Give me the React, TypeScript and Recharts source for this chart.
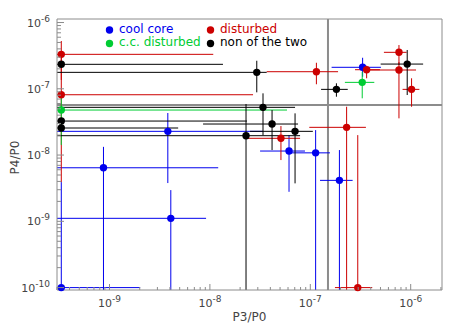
import { ScatterChart, Scatter, XAxis, YAxis, ErrorBar, ReferenceLine, Legend, Label } from "recharts"

// each row: [P3/P0, P4/P0, xLow, xHigh, yLow, yHigh]
// 1e-10 / 1e-11 as a low bound means the bar runs off the left / bottom of the plot
type Row = [number, number, number, number, number, number]

const coolCore: Row[] = [
  [3.31e-10, 1e-10, 1e-10, 2.02e-9, 1e-11, 3.91e-9],
  [3.81e-9, 2.28e-8, 1e-10, 3.38e-8, 3.78e-9, 4.31e-8],
  [8.71e-10, 6.43e-9, 1e-10, 1.21e-8, 1e-11, 1.33e-8],
  [4.08e-9, 1.11e-9, 1e-10, 9.16e-9, 1e-11, 2.96e-9],
  [6.14e-8, 1.15e-8, 3.16e-8, 8.85e-8, 2.79e-9, 2.0e-8],
  [1.13e-7, 1.08e-8, 5.82e-8, 1.57e-7, 1e-11, 2.38e-8],
  [1.95e-7, 4.15e-9, 1.25e-7, 2.64e-7, 1e-11, 1.19e-8],
  [3.32e-7, 2.11e-7, 1.63e-7, 5.05e-7, 1.52e-7, 2.94e-7],
]

const disturbed: Row[] = [
  [3.31e-10, 3.31e-7, 1e-10, 1.08e-8, 1.36e-7, 5.26e-7],
  [3.31e-10, 8.13e-8, 1e-10, 2.69e-8, 3.91e-9, 3.31e-7],
  [1.15e-7, 1.81e-7, 3.68e-8, 1.89e-7, 1.17e-7, 2.47e-7],
  [5.1e-8, 1.79e-8, 2.29e-8, 7.91e-8, 8.4e-9, 2.74e-8],
  [2.3e-7, 2.62e-8, 9.77e-8, 3.58e-7, 1e-11, 5.36e-8],
  [2.97e-7, 1e-10, 1.76e-7, 4.14e-7, 1e-11, 2.0e-8],
  [3.64e-7, 1.94e-7, 2.79e-7, 4.94e-7, 1.44e-7, 2.23e-7],
  [7.64e-7, 1.92e-7, 3.93e-7, 1.13e-6, 3.58e-8, 2.53e-7],
  [7.64e-7, 3.55e-7, 5.41e-7, 9.1e-7, 2.28e-7, 4.57e-7],
  [1.02e-6, 9.8e-8, 8.3e-7, 1.22e-6, 5.36e-8, 1.44e-7],
]

const ccDisturbed: Row[] = [
  [3.31e-10, 4.78e-8, 1e-10, 5.86e-8, 1.42e-8, 7.5e-8],
  [3.29e-7, 1.25e-7, 2.21e-7, 4.34e-7, 7.18e-8, 1.81e-7],
]

const neither: Row[] = [
  [3.31e-10, 2.34e-7, 1e-10, 1.35e-8, 2.34e-7, 2.34e-7],
  [3.31e-10, 3.26e-8, 1e-10, 2.34e-8, 3.26e-8, 3.26e-8],
  [3.31e-10, 2.56e-8, 1e-10, 4.83e-9, 2.56e-8, 2.56e-8],
  [2.93e-8, 1.77e-7, 1e-10, 3.68e-8, 8.84e-8, 2.65e-7],
  [2.29e-8, 1.96e-8, 1e-10, 7.91e-8, 1e-11, 5.89e-8],
  [4.16e-8, 2.94e-8, 8.55e-9, 7.55e-8, 1.19e-8, 4.78e-8],
  [3.38e-8, 5.25e-8, 1e-10, 7.05e-8, 2.0e-8, 8.54e-8],
  [7.05e-8, 2.28e-8, 2.51e-8, 1.06e-7, 3.74e-9, 4.26e-8],
  [1.82e-7, 9.8e-8, 1.28e-7, 2.36e-7, 7.59e-8, 1.21e-7],
  [9.23e-7, 2.36e-7, 5.02e-7, 1.33e-6, 8.05e-8, 3.85e-7],
]

const xMajor = [1e-9, 1e-8, 1e-7, 1e-6]
const yMajor = [1e-10, 1e-9, 1e-8, 1e-7, 1e-6]
const minorSteps = [2, 3, 4, 5, 6, 7, 8, 9]

const X_DOMAIN: [number, number] = [3e-10, 2.05e-6]
const Y_DOMAIN: [number, number] = [9.2e-11, 1.13e-6]
const P3_CUT = 1.5e-7
const P4_CUT = 5.7e-8

const AXIS = "#8c8c8c"
const TEXT = "#444"
const FONT = "'DejaVu Sans', sans-serif"

const series = [
  { name: "cool core", rows: coolCore, color: "#0000ee" },
  { name: "disturbed", rows: disturbed, color: "#cc0000" },
  { name: "c.c. disturbed", rows: ccDisturbed, color: "#00cc33" },
  { name: "non of the two", rows: neither, color: "#000000" },
]

// legend sits in a 2x2 grid: [col, row]
const legendOrder = ["cool core", "c.c. disturbed", "disturbed", "non of the two"]

const clamp = (v: number, [lo, hi]: [number, number]) => Math.min(Math.max(v, lo), hi)

function toPoints(rows: Row[]) {
  return rows.map(([x, y, xl, xh, yl, yh]) => {
    const xLo = clamp(xl, X_DOMAIN)
    const xHi = clamp(xh, X_DOMAIN)
    const yLo = clamp(yl, Y_DOMAIN)
    const yHi = clamp(yh, Y_DOMAIN)
    return { x, y, ex: [x - xLo, xHi - x], ey: [y - yLo, yHi - y] }
  })
}

function logTicks(major: number[], domain: [number, number]) {
  const out: number[] = []
  for (const m of [major[0] / 10, ...major]) {
    for (const k of [1, ...minorSteps]) {
      const v = m * k
      if (v >= domain[0] * 0.999 && v <= domain[1] * 1.001) out.push(v)
    }
  }
  return out
}

const xTicks = logTicks(xMajor, X_DOMAIN)
const yTicks = logTicks(yMajor, Y_DOMAIN)

const isMajor = (v: number, major: number[]) => major.some((m) => Math.abs(v / m - 1) < 1e-6)
const expOf = (v: number) => String(Math.round(Math.log10(v)))

function BottomTick({ x, y, payload }: any) {
  const major = isMajor(payload.value, xMajor)
  return (
    <g>
      <line x1={x} x2={x} y1={y} y2={y - (major ? 6 : 3)} stroke={AXIS} />
      {major && (
        <text x={x} y={y + 17} textAnchor="middle" fontSize={11} fill={TEXT}>
          10<tspan dy={-5} fontSize={9}>{expOf(payload.value)}</tspan>
        </text>
      )}
    </g>
  )
}

function TopTick({ x, y, payload }: any) {
  const major = isMajor(payload.value, xMajor)
  return <line x1={x} x2={x} y1={y} y2={y + (major ? 6 : 3)} stroke={AXIS} />
}

function LeftTick({ x, y, payload }: any) {
  const major = isMajor(payload.value, yMajor)
  return (
    <g>
      <line x1={x} x2={x + (major ? 7 : 4)} y1={y} y2={y} stroke={AXIS} />
      {major && (
        <text x={x - 7} y={y + 4} textAnchor="end" fontSize={11} fill={TEXT}>
          10<tspan dy={-5} fontSize={9}>{expOf(payload.value)}</tspan>
        </text>
      )}
    </g>
  )
}

function RightTick({ x, y, payload }: any) {
  const major = isMajor(payload.value, yMajor)
  return <line x1={x} x2={x - (major ? 7 : 4)} y1={y} y2={y} stroke={AXIS} />
}

function YTitle({ viewBox }: any) {
  const cx = viewBox.x + 11.5
  const cy = viewBox.y + viewBox.height / 2 + 3
  return (
    <text x={cx} y={cy} transform={`rotate(-90 ${cx} ${cy})`} textAnchor="middle" fontSize={12} fill={TEXT}>
      P4/P0
    </text>
  )
}

function LegendBox() {
  return (
    <svg width={458} height={60} style={{ display: "block" }}>
      {legendOrder.map((name, i) => {
        const s = series.find((d) => d.name === name)!
        const col = Math.floor(i / 2)
        const row = i % 2
        const dx = col === 0 ? 109.5 : 210.5
        const dy = row === 0 ? 30 : 43.5
        return (
          <g key={name}>
            <circle cx={dx} cy={dy} r={3.7} fill={s.color} />
            <text x={dx + 9.5} y={dy + 2.5} fontSize={12} fill={s.color} fontFamily={FONT}>
              {name}
            </text>
          </g>
        )
      })}
    </svg>
  )
}

export default function App() {
  return (
    <div style={{ position: "absolute", left: 0, top: 0, width: 458, height: 327, background: "#fff", fontFamily: FONT }}>
      <ScatterChart width={458} height={327} margin={{ top: 18, right: 15, bottom: 3, left: 7 }}>
        <XAxis
          xAxisId="x"
          dataKey="x"
          type="number"
          scale="log"
          domain={X_DOMAIN}
          ticks={xTicks}
          interval={0}
          tick={<BottomTick />}
          tickLine={false}
          tickSize={0}
          tickMargin={0}
          height={34}
          axisLine={{ stroke: AXIS }}
          label={{ value: "P3/P0", position: "insideBottom", offset: 3, fill: TEXT, fontSize: 12 }}
        />
        <XAxis
          xAxisId="xt"
          orientation="top"
          type="number"
          scale="log"
          domain={X_DOMAIN}
          ticks={xTicks}
          interval={0}
          tick={<TopTick />}
          tickLine={false}
          tickSize={0}
          tickMargin={0}
          height={1}
          axisLine={{ stroke: AXIS }}
        />
        <YAxis
          yAxisId="y"
          dataKey="y"
          type="number"
          scale="log"
          domain={Y_DOMAIN}
          ticks={yTicks}
          interval={0}
          tick={<LeftTick />}
          tickLine={false}
          tickSize={0}
          tickMargin={0}
          width={50}
          axisLine={{ stroke: AXIS }}
        >
          <Label content={<YTitle />} />
        </YAxis>
        <YAxis
          yAxisId="yr"
          orientation="right"
          type="number"
          scale="log"
          domain={Y_DOMAIN}
          ticks={yTicks}
          interval={0}
          tick={<RightTick />}
          tickLine={false}
          tickSize={0}
          tickMargin={0}
          width={1}
          axisLine={{ stroke: AXIS }}
        />
        <ReferenceLine xAxisId="x" yAxisId="y" x={P3_CUT} stroke={AXIS} strokeWidth={2} />
        <ReferenceLine xAxisId="x" yAxisId="y" y={P4_CUT} stroke={AXIS} strokeWidth={2} />
        {series.map((s) => (
          <Scatter
            key={s.name}
            name={s.name}
            xAxisId="x"
            yAxisId="y"
            data={toPoints(s.rows)}
            fill={s.color}
            isAnimationActive={false}
            shape={(p: any) => <circle cx={p.cx} cy={p.cy} r={3.7} fill={s.color} />}
          >
            <ErrorBar dataKey="ex" direction="x" width={0} stroke={s.color} strokeWidth={1} isAnimationActive={false} />
            <ErrorBar dataKey="ey" direction="y" width={0} stroke={s.color} strokeWidth={1} isAnimationActive={false} />
          </Scatter>
        ))}
        <Legend
          content={<LegendBox />}
          layout="vertical"
          align="center"
          verticalAlign="middle"
          wrapperStyle={{ top: 0, left: 0, width: 458, height: 60 }}
        />
      </ScatterChart>
    </div>
  )
}
